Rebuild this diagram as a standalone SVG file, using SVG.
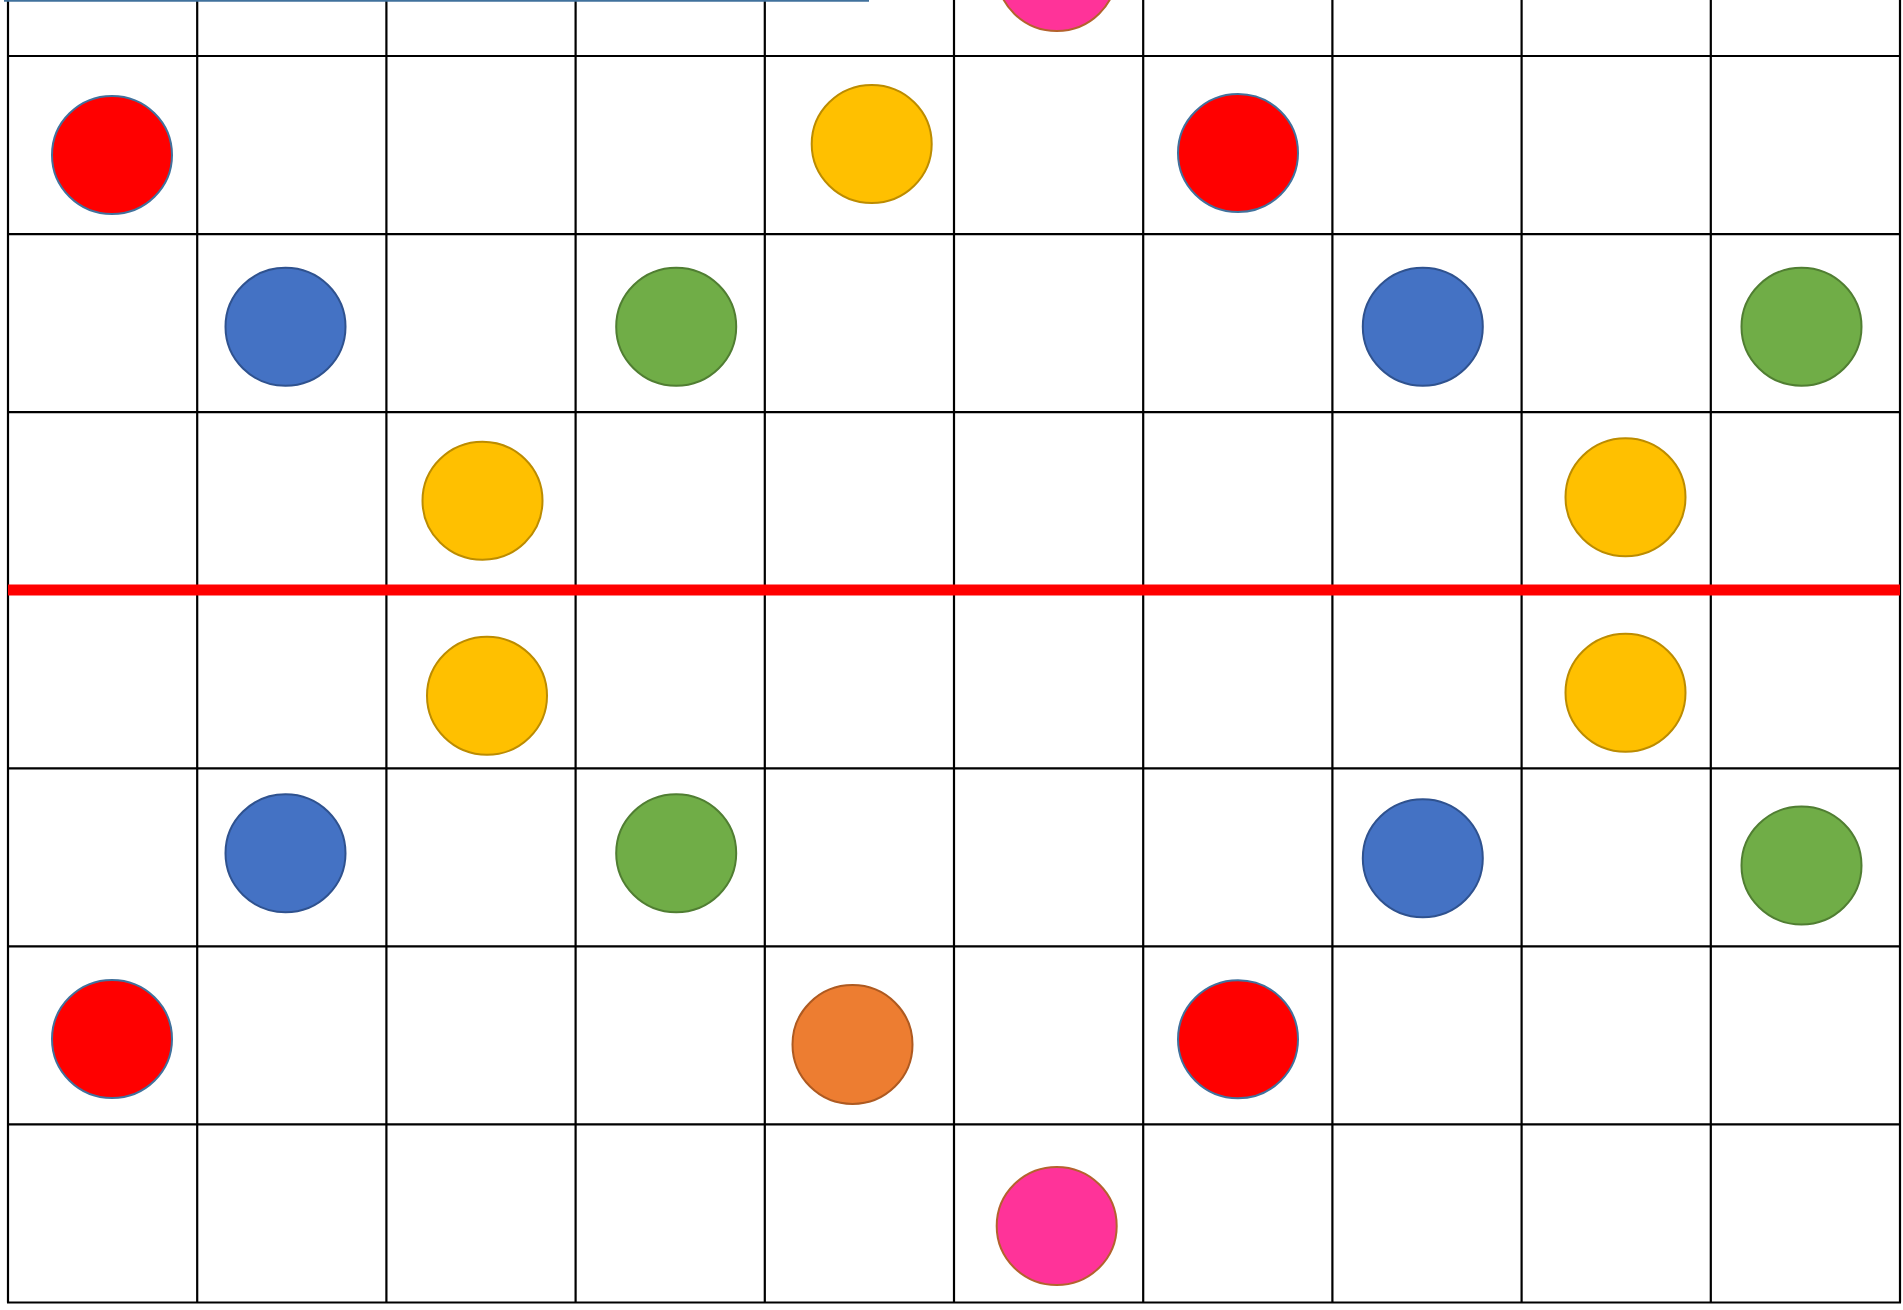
<svg xmlns="http://www.w3.org/2000/svg" width="1903" height="1310" viewBox="0 0 1903 1310">
<style>
.g{stroke:#000;stroke-width:2.2;fill:none}
.c{stroke-width:2}
.red{fill:#FF0000;stroke:#41719C}
.yel{fill:#FFC000;stroke:#BC8C00}
.blu{fill:#4472C4;stroke:#2F528F}
.grn{fill:#70AD47;stroke:#507E32}
.org{fill:#ED7D31;stroke:#AE5A21}
.pnk{fill:#FF3399;stroke:#B4622D}
</style>
<rect width="1903" height="1310" fill="#fff"/>
<g id="grid">
<path class="g" d="M8,0V1302.5M197.2,0V1302.5M386.4,0V1302.5M575.6,0V1302.5M764.8,0V1302.5M954,0V1302.5M1143.2,0V1302.5M1332.4,0V1302.5M1521.6,0V1302.5M1710.8,0V1302.5M1900,0V1302.5"/>
<path class="g" d="M7,56H1901M7,234.1H1901M7,412.1H1901M7,590.2H1901M7,768.3H1901M7,946.4H1901M7,1124.4H1901M7,1302.5H1901"/>
</g>
<g id="lines">
<line x1="4" y1="0.5" x2="869" y2="0.5" stroke="#41719C" stroke-width="2.5"/>
<line x1="8" y1="590" x2="1900" y2="590" stroke="#FF0000" stroke-width="11"/>
</g>
<g id="n-pink-top"><ellipse class="c pnk" cx="1056.7" cy="-28" rx="60" ry="59"/></g>
<g id="n-red-1"><ellipse class="c red" cx="112" cy="155" rx="60" ry="59"/></g>
<g id="n-yellow-1"><ellipse class="c yel" cx="871.7" cy="144" rx="60" ry="59"/></g>
<g id="n-red-2"><ellipse class="c red" cx="1238" cy="153" rx="60" ry="59"/></g>
<g id="n-blue-1"><ellipse class="c blu" cx="285.5" cy="326.8" rx="60" ry="59"/></g>
<g id="n-green-1"><ellipse class="c grn" cx="676.2" cy="326.8" rx="60" ry="59"/></g>
<g id="n-blue-2"><ellipse class="c blu" cx="1422.8" cy="326.7" rx="60" ry="59"/></g>
<g id="n-green-2"><ellipse class="c grn" cx="1801.5" cy="326.7" rx="60" ry="59"/></g>
<g id="n-yellow-2"><ellipse class="c yel" cx="482.5" cy="500.8" rx="60" ry="59"/></g>
<g id="n-yellow-3"><ellipse class="c yel" cx="1625.5" cy="497.2" rx="60" ry="59"/></g>
<g id="n-yellow-4"><ellipse class="c yel" cx="487" cy="695.8" rx="60" ry="59"/></g>
<g id="n-yellow-5"><ellipse class="c yel" cx="1625.5" cy="692.7" rx="60" ry="59"/></g>
<g id="n-blue-3"><ellipse class="c blu" cx="285.5" cy="853.3" rx="60" ry="59"/></g>
<g id="n-green-3"><ellipse class="c grn" cx="676.2" cy="853.3" rx="60" ry="59"/></g>
<g id="n-blue-4"><ellipse class="c blu" cx="1422.8" cy="858.3" rx="60" ry="59"/></g>
<g id="n-green-4"><ellipse class="c grn" cx="1801.5" cy="865.5" rx="60" ry="59"/></g>
<g id="n-red-3"><ellipse class="c red" cx="112" cy="1039" rx="60" ry="59"/></g>
<g id="n-orange"><ellipse class="c org" cx="852.5" cy="1044.5" rx="60" ry="59.5"/></g>
<g id="n-red-4"><ellipse class="c red" cx="1238" cy="1039.2" rx="60" ry="59"/></g>
<g id="n-pink-bottom"><ellipse class="c pnk" cx="1056.7" cy="1226" rx="60" ry="59"/></g>
</svg>
